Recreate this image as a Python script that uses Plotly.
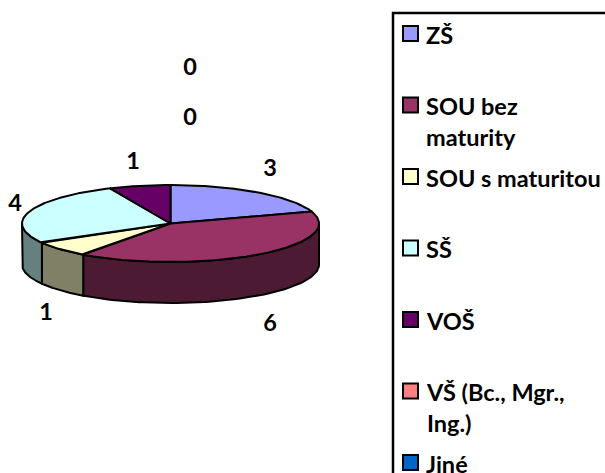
import numpy as np
import plotly.graph_objects as go

categories = ["ZŠ", "SOU bez<br>maturity", "SOU s maturitou", "SŠ", "VOŠ", "VŠ (Bc., Mgr.,<br>Ing.)", "Jiné"]
values = [3, 6, 1, 4, 1, 0, 0]
colors = ["#9999FF", "#993366", "#FFFFCC", "#CCFFFF", "#660066", "#FF8080", "#0066CC"]
side_colors = ["#4D4D80", "#4D1A33", "#808066", "#668080", "#330033", "#804040", "#003366"]

# layout constants (pixels)
CX, CY, RX, RY, DEPTH = 170.5, 223.5, 148.5, 38.5, 41
LABEL_POS = [(270, 170), (270, 325), (46, 314), (15, 205), (133, 163), (190, 119), (190, 69)]
LEG_X, LEG_Y0, LEG_STEP = 410.5, 33.5, 71.5
FONT = "Lato"
FS = 23.5

def ell(a, dy=0):
    a = np.radians(a)
    return CX + RX * np.sin(a), CY - RY * np.cos(a) + dy

fig = go.Figure()
bounds = np.concatenate([[0], np.cumsum(values)]) / sum(values) * 360

def poly(x, y, fill):
    fig.add_trace(go.Scatter(x=x, y=y, mode="lines", fill="toself", fillcolor=fill,
                             line=dict(color="black", width=2), hoverinfo="skip", showlegend=False))

# side walls (only the front half of the ellipse is visible)
for i in range(len(values)):
    a0, a1 = max(bounds[i], 90), min(bounds[i + 1], 270)
    if a1 > a0:
        t = np.linspace(a0, a1, 80)
        xt, yt = ell(t)
        xb, yb = ell(t[::-1], DEPTH)
        poly(np.r_[xt, xb, xt[0]], np.r_[yt, yb, yt[0]], side_colors[i])

# top faces
for i in range(len(values)):
    if values[i] > 0:
        t = np.linspace(bounds[i], bounds[i + 1], 120)
        xt, yt = ell(t)
        poly(np.r_[CX, xt, CX], np.r_[CY, yt, CY], colors[i])

# value labels
fig.add_trace(go.Scatter(x=[p[0] for p in LABEL_POS], y=[p[1] for p in LABEL_POS],
                         mode="text", text=[str(v) for v in values],
                         textfont=dict(family=FONT, size=FS, color="black", weight="bold"),
                         textposition="middle center", hoverinfo="skip", showlegend=False))

# legend swatches and labels
leg_y = [LEG_Y0 + LEG_STEP * i for i in range(len(categories))]
fig.add_trace(go.Scatter(x=[LEG_X] * len(categories), y=leg_y, mode="markers",
                         marker=dict(symbol="square", size=15, color=colors,
                                     line=dict(color="black", width=2)),
                         hoverinfo="skip", showlegend=False, cliponaxis=False))
for c, y in zip(categories, leg_y):
    fig.add_annotation(x=424, y=y - 15, text=c, showarrow=False, xanchor="left", yanchor="top",
                       align="left", xref="x", yref="y",
                       font=dict(family=FONT, size=FS, color="black", weight="bold"))

fig.update_layout(
    width=605, height=473, margin=dict(l=0, r=0, t=0, b=0),
    paper_bgcolor="white", plot_bgcolor="white", showlegend=False,
    xaxis=dict(range=[0, 605], visible=False, fixedrange=True),
    yaxis=dict(range=[473, 0], visible=False, fixedrange=True),
    shapes=[dict(type="rect", xref="x", yref="y", x0=393, y0=13, x1=650, y1=520,
                 line=dict(color="black", width=2.5), fillcolor="rgba(0,0,0,0)")],
)
fig.write_html("out.html", config=dict(displayModeBar=False),
               post_script="document.body.style.margin='0';document.body.style.overflow='hidden';")
